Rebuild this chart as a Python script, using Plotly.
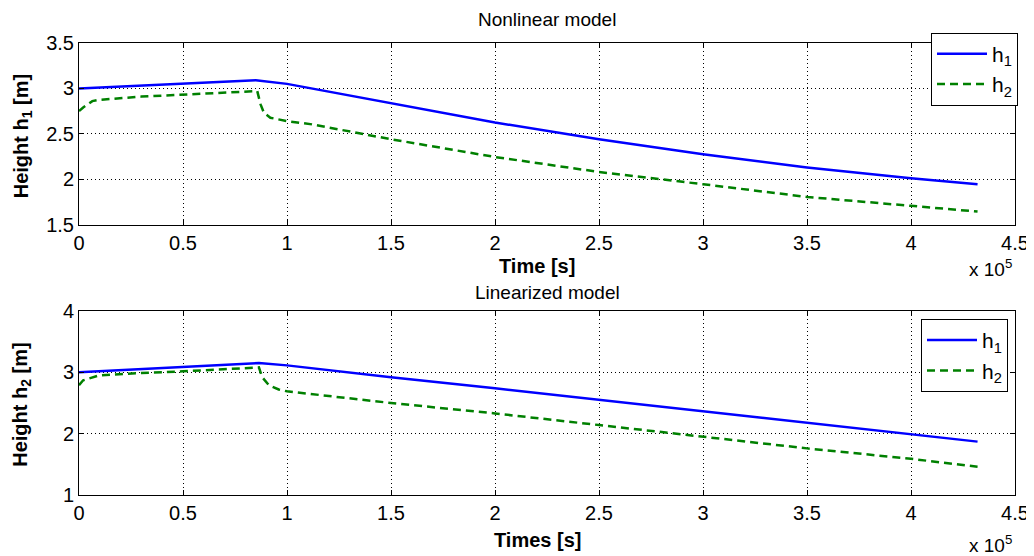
import plotly.graph_objects as go

# ---- data (time in seconds) ----
t_top_h1 = [0, 0.5e5, 0.85e5, 1.0e5, 1.5e5, 2.0e5, 2.5e5, 3.0e5, 3.5e5, 4.0e5, 4.32e5]
top_h1 = [3.0, 3.05, 3.09, 3.05, 2.835, 2.625, 2.44, 2.275, 2.13, 2.01, 1.945]

t_top_h2 = [0, 0.02e5, 0.064e5, 0.1e5, 0.3e5, 0.5e5, 0.7e5, 0.857e5, 0.873e5, 0.889e5,
            0.92e5, 1.0e5, 1.12e5, 1.5e5, 2.0e5, 2.5e5, 3.0e5, 3.5e5, 4.0e5, 4.32e5]
top_h2 = [2.75, 2.79, 2.86, 2.875, 2.91, 2.934, 2.95, 2.97, 2.824, 2.732,
          2.677, 2.64, 2.604, 2.44, 2.245, 2.08, 1.945, 1.805, 1.707, 1.644]

t_bot_h1 = [0, 0.5e5, 0.865e5, 1.0e5, 1.5e5, 2.0e5, 2.5e5, 3.0e5, 3.5e5, 4.0e5, 4.32e5]
bot_h1 = [3.0, 3.086, 3.15, 3.113, 2.92, 2.74, 2.55, 2.36, 2.17, 1.99, 1.87]

t_bot_h2 = [0, 0.02e5, 0.096e5, 0.3e5, 0.5e5, 0.7e5, 0.865e5, 0.88e5, 0.913e5, 0.96e5,
            1.0e5, 1.5e5, 2.0e5, 2.5e5, 3.0e5, 3.5e5, 4.0e5, 4.32e5]
bot_h2 = [2.79, 2.87, 2.95, 2.99, 3.016, 3.05, 3.08, 2.924, 2.79, 2.72,
          2.69, 2.50, 2.33, 2.14, 1.95, 1.76, 1.59, 1.46]

x_tickvals = [0, 0.5e5, 1e5, 1.5e5, 2e5, 2.5e5, 3e5, 3.5e5, 4e5, 4.5e5]
x_ticktext = ["0", "0.5", "1", "1.5", "2", "2.5", "3", "3.5", "4", "4.5"]
top_yticks = [1.5, 2, 2.5, 3, 3.5]
top_ytext = ["1.5", "2", "2.5", "3", "3.5"]
bot_yticks = [1, 2, 3, 4]
bot_ytext = ["1", "2", "3", "4"]

FONT = "Liberation Sans, Arial, sans-serif"
BLUE = "#0000FF"
GREEN = "#008000"

fig = go.Figure()
fig.add_trace(go.Scatter(x=t_top_h1, y=top_h1, mode="lines", name="h<sub>1</sub>",
                         line=dict(color=BLUE, width=2.5), xaxis="x", yaxis="y", legend="legend"))
fig.add_trace(go.Scatter(x=t_top_h2, y=top_h2, mode="lines", name="h<sub>2</sub>",
                         line=dict(color=GREEN, width=2.5, dash="8px,5px"), xaxis="x", yaxis="y", legend="legend"))
fig.add_trace(go.Scatter(x=t_bot_h1, y=bot_h1, mode="lines", name="h<sub>1</sub>",
                         line=dict(color=BLUE, width=2.5), xaxis="x2", yaxis="y2", legend="legend2"))
fig.add_trace(go.Scatter(x=t_bot_h2, y=bot_h2, mode="lines", name="h<sub>2</sub>",
                         line=dict(color=GREEN, width=2.5, dash="8px,5px"), xaxis="x2", yaxis="y2", legend="legend2"))

# page body has an 8px margin, so the figure is drawn 8px smaller
OFF = 8
W, H = 1034 - OFF, 556 - OFF
L, R, T, B = 79.0, 1015.0, 42.5, 495.4   # plot area in screen pixels

def py(s):
    return (B - s) / (B - T)

def px(s):
    return (s - L) / (R - L)

axis_common = dict(
    showline=True, linecolor="black", linewidth=1, mirror="ticks",
    ticks="inside", ticklen=5, tickcolor="black", automargin=False,
    showgrid=True, gridcolor="black", gridwidth=1, griddash="1px,3px",
    zeroline=False, tickfont=dict(family=FONT, size=20, color="black"),
)

fig.update_layout(
    width=W, height=H,
    margin=dict(l=L - OFF, r=W - (R - OFF), t=T - OFF, b=H - (B - OFF), autoexpand=False),
    plot_bgcolor="white", paper_bgcolor="white",
    font=dict(family=FONT, color="black"),
    xaxis=dict(domain=[0, 1], range=[0, 4.5e5], tickvals=x_tickvals, ticktext=x_ticktext,
               anchor="y", **axis_common),
    yaxis=dict(domain=[py(224.5), py(42.5)], range=[1.5, 3.5], tickvals=top_yticks, ticktext=top_ytext,
               anchor="x", **axis_common),
    xaxis2=dict(domain=[0, 1], range=[0, 4.5e5], tickvals=x_tickvals, ticktext=x_ticktext,
                anchor="y2", **axis_common),
    yaxis2=dict(domain=[0, py(311)], range=[1, 4], tickvals=bot_yticks, ticktext=bot_ytext,
                anchor="x2", **axis_common),
    legend=dict(x=px(931), y=py(32), xanchor="left", yanchor="top", itemwidth=50,
                bordercolor="black", borderwidth=1, bgcolor="white",
                font=dict(family=FONT, size=21, color="black"), tracegroupgap=0),
    legend2=dict(x=px(921), y=py(319), xanchor="left", yanchor="top", itemwidth=50,
                 bordercolor="black", borderwidth=1, bgcolor="white",
                 font=dict(family=FONT, size=21, color="black"), tracegroupgap=0),
    showlegend=True,
)

def ann(text, xs, ys, size, angle=0):
    return dict(text=text, x=px(xs), y=py(ys), xref="paper", yref="paper",
                xanchor="center", yanchor="middle", showarrow=False, textangle=angle,
                font=dict(family=FONT, size=size, color="black"))

annotations = [
    ann("Nonlinear model", 547, 19, 19),
    ann("Linearized model", 547, 292, 19),
    ann("<b>Time [s]</b>", 537, 266, 20),
    ann("<b>Times [s]</b>", 537, 540, 20),
    ann("<b>Height h<sub>1</sub> [m]</b>", 22, 136, 20, -90),
    ann("<b>Height h<sub>2</sub> [m]</b>", 22, 405, 20, -90),
    ann("x 10<sup>5</sup>", 990, 268, 19),
    ann("x 10<sup>5</sup>", 990, 544, 19),
]
fig.update_layout(annotations=annotations)

fig.write_html("out.html")
